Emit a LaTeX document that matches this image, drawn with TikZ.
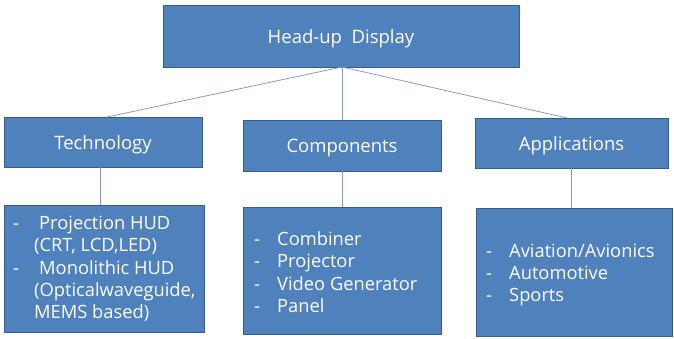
\documentclass[tikz,border=0pt]{standalone}
\usepackage{fontspec}
\setmainfont{Open Sans}
\definecolor{boxfill}{HTML}{4F81BD}
\definecolor{boxline}{HTML}{385D8A}
\definecolor{conn}{HTML}{8A99C9}
\begin{document}
\begin{tikzpicture}[x=1pt,y=-1pt,
  box/.style={draw=boxline, line width=1pt, fill=boxfill, inner sep=0pt, outer sep=0pt, anchor=north west, text=white},
  head/.style={font=\fontsize{18.5}{22}\selectfont, text height=15pt, text depth=1pt},
  list/.style={text=white, anchor=west, align=left, inner sep=0pt, font=\fontsize{18.3}{22.3}\selectfont},
  conn/.style={draw=conn, line width=0.8pt}]
\useasboundingbox (0,0) rectangle (674,338);
\node[box, minimum width=356pt, minimum height=62pt, head] (hud) at (163,5) {Head-up\ \ Display};
\node[box, minimum width=198pt, minimum height=50pt, head] (tech) at (4,117) {Technology};
\node[box, minimum width=198pt, minimum height=51pt, head] (comp) at (243,120) {Components};
\node[box, minimum width=193pt, minimum height=50pt, head] (app) at (475,118) {Applications};
\node[box, minimum width=200pt, minimum height=127pt] (techb) at (4,205) {};
\node[box, minimum width=198pt, minimum height=127pt] (compb) at (243,207) {};
\node[box, minimum width=196pt, minimum height=128pt] (appb) at (476,208) {};
\node[list] (techl) at (13,269) {\makebox[26pt][l]{-}Projection HUD\\\hspace{21pt}(CRT, LCD,LED)\\\makebox[26pt][l]{-}Monolithic HUD\\\hspace{21pt}(Opticalwaveguide,\\\hspace{21pt}MEMS based)};
\node[list] (compl) at (254,272) {\makebox[23pt][l]{-}Combiner\\\makebox[23pt][l]{-}Projector\\\makebox[23pt][l]{-}Video Generator\\\makebox[23pt][l]{-}Panel};
\node[list] (appl) at (486,275) {\makebox[23pt][l]{-}Aviation/Avionics\\\makebox[23pt][l]{-}Automotive\\\makebox[23pt][l]{-}Sports};
\coordinate (o) at (342,67);
\path[conn] (o) -- (107,117);
\path[conn] (o) -- (342,120);
\path[conn] (o) -- (567,118);
\path[conn] (tech.south -| 100,0) -- (techb.north -| 100,0);
\path[conn] (comp.south) -- (compb.north);
\path[conn] (app.south -| 571,0) -- (appb.north -| 571,0);
\end{tikzpicture}
\end{document}
